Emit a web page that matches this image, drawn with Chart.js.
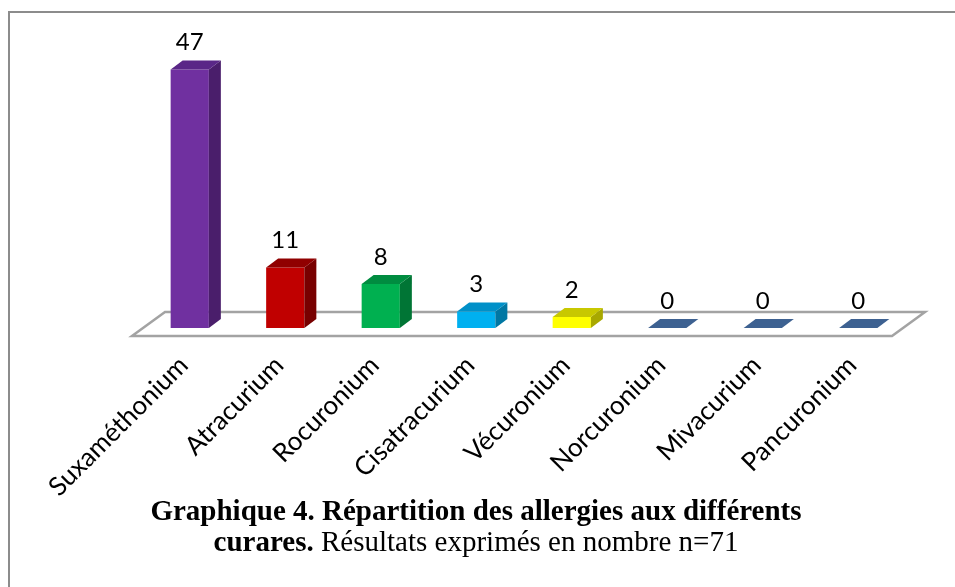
<!DOCTYPE html>
<html>
<head>
<meta charset="utf-8">
<script src="https://cdn.jsdelivr.net/npm/chart.js@4.4.1/dist/chart.umd.min.js"></script>
<style>
  html, body { margin: 0; padding: 0; background: #fff; }
  #wrap { position: relative; width: 955px; height: 587px; overflow: hidden; }
  #frame {
    position: absolute; left: 8px; top: 11px; width: 1000px; height: 600px;
    border-top: 2px solid #8c8c8c; border-left: 2px solid #8c8c8c;
  }
  #chart { position: absolute; left: 0; top: 0; }
  #caption {
    position: absolute; left: 0; top: 495px; width: 952px; text-align: center;
    font-family: "Liberation Serif", "Times New Roman", serif; font-size: 29px; line-height: 31px; color: #000;
  }
</style>
</head>
<body>
<div id="wrap">
  <div id="frame"></div>
  <canvas id="chart" width="955" height="587"></canvas>
  <div id="caption"><b>Graphique 4. Répartition des allergies aux différents</b><br><b>curares.</b> Résultats exprimés en nombre n=71</div>
</div>
<script>
const categories = ["Suxaméthonium", "Atracurium", "Rocuronium", "Cisatracurium", "Vécuronium", "Norcuronium", "Mivacurium", "Pancuronium"];
const values = [47, 11, 8, 3, 2, 0, 0, 0];

// front / side / top colours of each bar
const frontColors = ["#7030a0", "#c00000", "#00b050", "#00b0f0", "#ffff00", "#3d6191", "#3d6191", "#3d6191"];
const sideColors = ["#4a1e6b", "#780000", "#007535", "#0077a3", "#a8a800", "#2b456a", "#2b456a", "#2b456a"];
const topColors = ["#5a2787", "#900000", "#008c40", "#0090c8", "#c8c800", "#3d6191", "#3d6191", "#3d6191"];

const DX = 12, DY = 9;

const floorPlugin = {
  id: 'floor3d',
  beforeDatasetsDraw(chart) {
    const { ctx, chartArea } = chart;
    const base = chart.scales.y.getPixelForValue(0);
    const l = chartArea.left, r = chartArea.right;
    ctx.save();
    ctx.beginPath();
    ctx.moveTo(l - 10, base + 8);
    ctx.lineTo(r - 14, base + 8);
    ctx.lineTo(r + 19, base - 16);
    ctx.lineTo(l + 23, base - 16);
    ctx.closePath();
    ctx.fillStyle = '#ffffff';
    ctx.fill();
    ctx.lineWidth = 2.5;
    ctx.strokeStyle = '#a3a3a3';
    ctx.stroke();
    ctx.restore();
  }
};

const depthPlugin = {
  id: 'depth3d',
  afterDatasetsDraw(chart) {
    const { ctx } = chart;
    const meta = chart.getDatasetMeta(0);
    ctx.save();
    meta.data.forEach((bar, i) => {
      const p = bar.getProps(['x', 'y', 'base', 'width'], true);
      const x0 = p.x - p.width / 2, x1 = p.x + p.width / 2;
      const top = p.y, base = p.base;
      if (values[i] === 0) {
        // flat tile on the floor
        ctx.fillStyle = frontColors[i];
        ctx.beginPath();
        ctx.moveTo(x0, base);
        ctx.lineTo(x1, base);
        ctx.lineTo(x1 + DX, base - DY);
        ctx.lineTo(x0 + DX, base - DY);
        ctx.closePath();
        ctx.fill();
      } else {
        // side face
        ctx.fillStyle = sideColors[i];
        ctx.beginPath();
        ctx.moveTo(x1, base);
        ctx.lineTo(x1, top);
        ctx.lineTo(x1 + DX, top - DY);
        ctx.lineTo(x1 + DX, base - DY);
        ctx.closePath();
        ctx.fill();
        // top face
        ctx.fillStyle = topColors[i];
        ctx.beginPath();
        ctx.moveTo(x0, top);
        ctx.lineTo(x1, top);
        ctx.lineTo(x1 + DX, top - DY);
        ctx.lineTo(x0 + DX, top - DY);
        ctx.closePath();
        ctx.fill();
      }
      // value label
      ctx.fillStyle = '#000';
      ctx.font = '24px Lato, "Noto Sans", sans-serif';
      ctx.textAlign = 'center';
      ctx.textBaseline = 'middle';
      ctx.fillText(String(values[i]), p.x, top - 27);
    });
    ctx.restore();
  }
};

new Chart(document.getElementById('chart'), {
  type: 'bar',
  data: {
    labels: categories,
    datasets: [{
      data: values,
      backgroundColor: frontColors,
      borderWidth: 0,
      barPercentage: 0.5,
      categoryPercentage: 0.8
    }]
  },
  options: {
    responsive: false,
    animation: false,
    layout: { padding: { left: 142, right: 49, top: 42, bottom: 0 } },
    plugins: {
      legend: { display: false },
      tooltip: { enabled: false }
    },
    scales: {
      x: {
        grid: { display: false },
        border: { display: false },
        ticks: {
          color: '#000',
          font: { family: 'Lato', size: 26 },
          maxRotation: 45,
          minRotation: 45,
          padding: 14,
          labelOffset: -6
        },
        afterFit(scale) { scale.height = 259; }
      },
      y: {
        display: false,
        min: 0,
        max: 52
      }
    }
  },
  plugins: [floorPlugin, depthPlugin]
});
</script>
</body>
</html>
